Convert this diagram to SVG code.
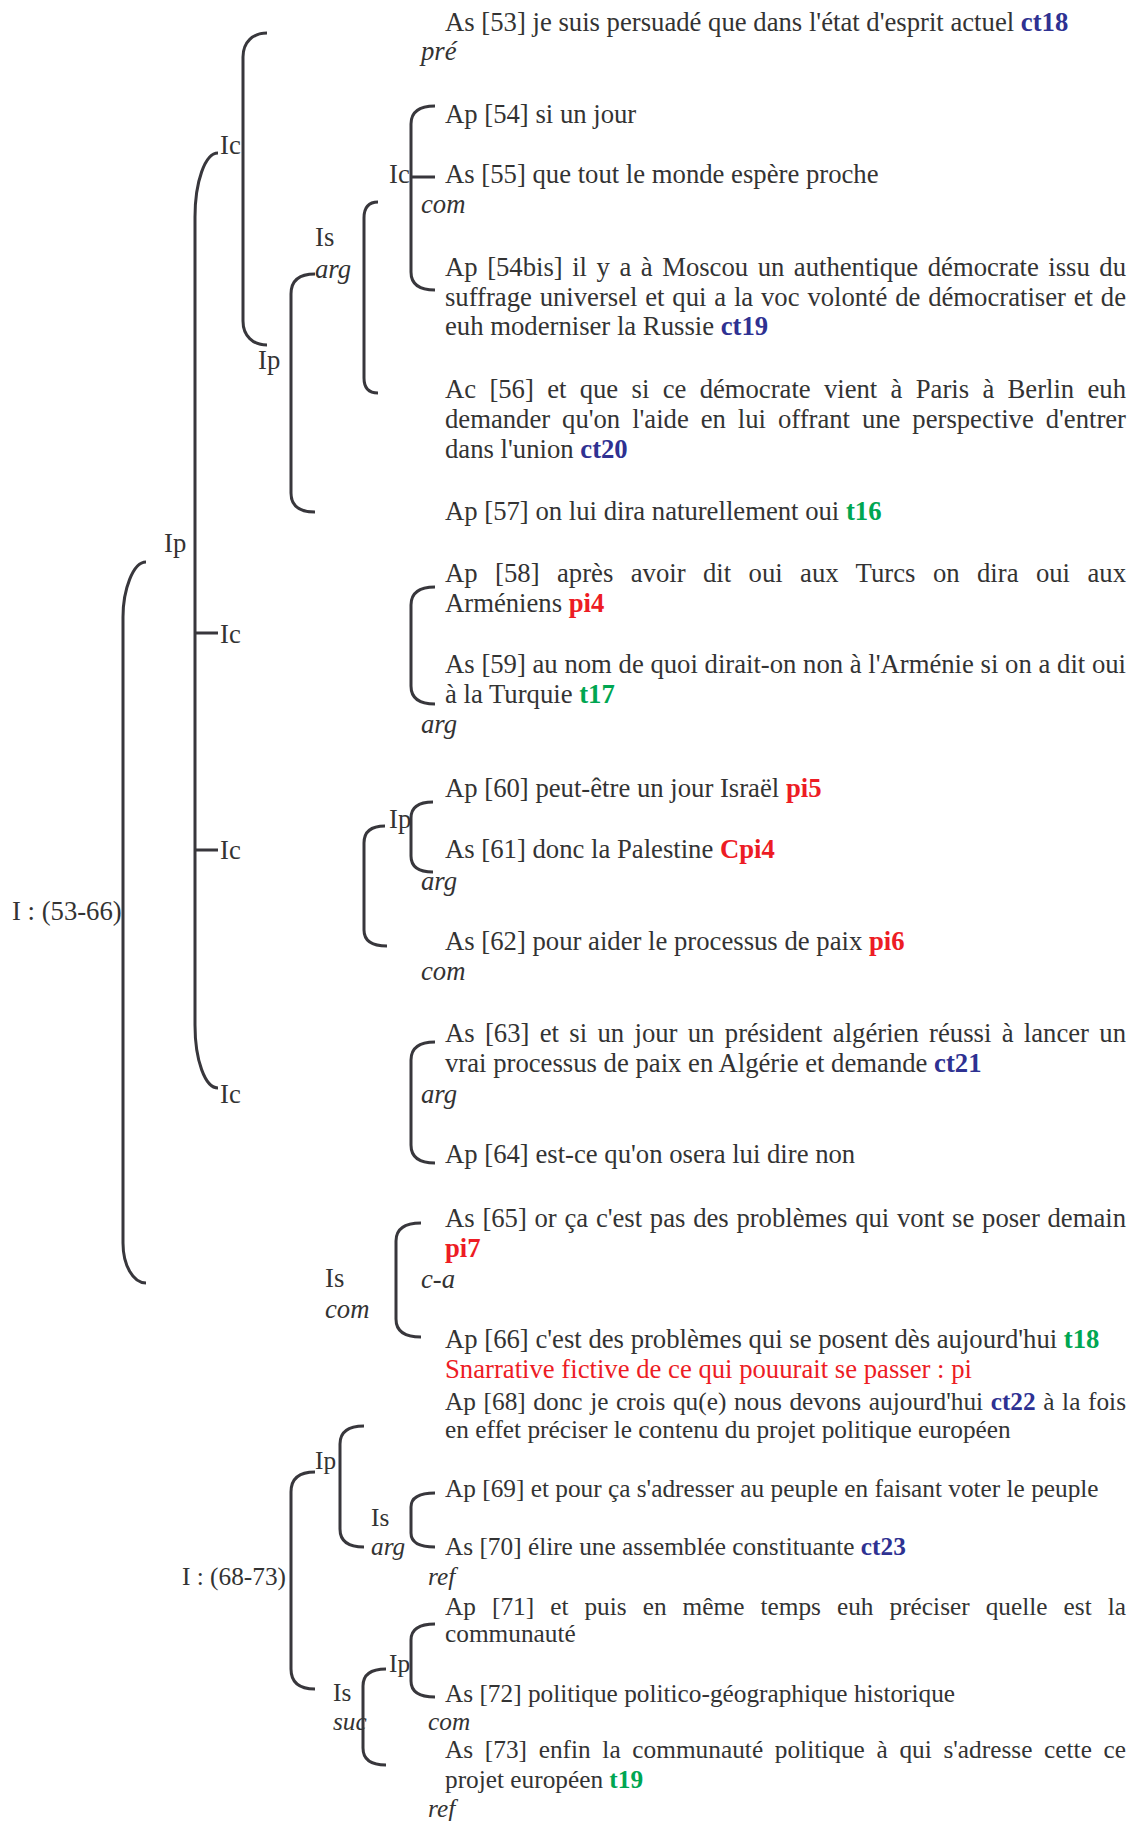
<svg xmlns="http://www.w3.org/2000/svg" width="1139" height="1821" viewBox="0 0 1139 1821">
<style>
.t{font-family:"Liberation Serif","Times New Roman",serif;font-size:26.7px;fill:#333}
.s{font-size:25.3px}
.i{font-style:italic}
.b{font-weight:bold}
.blue{fill:#2e3192}
.green{fill:#00a651}
.red{fill:#ed1c24}
.br{fill:none;stroke:#38373c;stroke-width:3}
</style>
<rect width="1139" height="1821" fill="#fff"/>
<g id="connectors">
<path class="br" d="M267,33 C253,33 243,42 243,57 L243,321 C243,336 253,345 267,345"/>
<path class="br" d="M218,153 C205,153 195,182 195,217 L195,1025 C195,1060 205,1088 218,1088 M195,633 H218 M195,850 H218"/>
<path class="br" d="M146,562 C133,562 123,590 123,617 L123,1243 C123,1265 133,1283 146,1283"/>
<path class="br" d="M315,274 Q291,274 291,294 L291,493 Q291,512 315,512"/>
<path class="br" d="M378,202 Q364,202 364,218 L364,378 Q364,393 378,393"/>
<path class="br" d="M435,106 Q411,106 411,124 L411,272 Q411,290 435,290 M411,177 H435"/>
<path class="br" d="M435,587 Q411,587 411,605 L411,686 Q411,704 435,704"/>
<path class="br" d="M433,802 Q411,802 411,818 L411,856 Q411,872 433,872"/>
<path class="br" d="M385,826 Q364,826 364,843 L364,930 Q364,946 387,946"/>
<path class="br" d="M435,1042 Q411,1042 411,1060 L411,1145 Q411,1163 435,1163"/>
<path class="br" d="M421,1223 Q396,1223 396,1241 L396,1319 Q396,1337 421,1337"/>
<path class="br" d="M315,1472 Q291,1472 291,1492 L291,1669 Q291,1689 315,1689"/>
<path class="br" d="M364,1426 Q340,1426 340,1444 L340,1529 Q340,1547 364,1547"/>
<path class="br" d="M435,1493 Q411,1493 411,1507 L411,1533 Q411,1547 435,1547"/>
<path class="br" d="M386,1669 Q363,1669 363,1686 L363,1748 Q363,1765 386,1765"/>
<path class="br" d="M435,1624 Q411,1624 411,1640 L411,1681 Q411,1697 435,1697"/>
</g>
<g id="labels">
<text class="t" x="220" y="154">Ic</text>
<text class="t" x="258" y="369">Ip</text>
<text class="t" x="315" y="246">Is</text>
<text class="t i" x="315" y="278">arg</text>
<text class="t" x="389" y="183">Ic</text>
<text class="t" x="164" y="552">Ip</text>
<text class="t" x="220" y="643">Ic</text>
<text class="t" x="220" y="859">Ic</text>
<text class="t" x="389" y="828">Ip</text>
<text class="t" x="12" y="920">I : (53-66)</text>
<text class="t" x="220" y="1103">Ic</text>
<text class="t" x="325" y="1287">Is</text>
<text class="t i" x="325" y="1318">com</text>
<text class="t s" x="315" y="1469">Ip</text>
<text class="t s" x="371" y="1526">Is</text>
<text class="t s i" x="371" y="1555">arg</text>
<text class="t s" x="182" y="1585">I : (68-73)</text>
<text class="t s" x="389" y="1672">Ip</text>
<text class="t s" x="333" y="1701">Is</text>
<text class="t s i" x="333" y="1730">suc</text>
<text class="t i" x="421" y="60">pré</text>
<text class="t i" x="421" y="213">com</text>
<text class="t i" x="421" y="733">arg</text>
<text class="t i" x="421" y="890">arg</text>
<text class="t i" x="421" y="980">com</text>
<text class="t i" x="421" y="1103">arg</text>
<text class="t i" x="421" y="1288">c-a</text>
<text class="t s i" x="428" y="1585">ref</text>
<text class="t s i" x="428" y="1730">com</text>
<text class="t s i" x="428" y="1817">ref</text>
</g>
<g id="seg53"><text class="t" x="445" y="31">As [53] je suis persuadé que dans l'état d'esprit actuel <tspan class="b blue">ct18</tspan></text></g>
<g id="seg54"><text class="t" x="445" y="123">Ap [54] si un jour</text></g>
<g id="seg55"><text class="t" x="445" y="183">As [55] que tout le monde espère proche</text></g>
<g id="seg54bis">
<text class="t" x="445" y="276" word-spacing="2.9" textLength="681" lengthAdjust="spacing">Ap [54bis] il y a à Moscou un authentique démocrate issu du</text>
<text class="t" x="445" y="306" word-spacing="1.2" textLength="681" lengthAdjust="spacing">suffrage universel et qui a la voc volonté de démocratiser et de</text>
<text class="t" x="445" y="335">euh moderniser la Russie <tspan class="b blue">ct19</tspan></text>
</g>
<g id="seg56">
<text class="t" x="445" y="398" word-spacing="6.7" textLength="681" lengthAdjust="spacing">Ac [56] et que si ce démocrate vient à Paris à Berlin euh</text>
<text class="t" x="445" y="428" word-spacing="5.3" textLength="681" lengthAdjust="spacing">demander qu'on l'aide en lui offrant une perspective d'entrer</text>
<text class="t" x="445" y="458">dans l'union <tspan class="b blue">ct20</tspan></text>
</g>
<g id="seg57"><text class="t" x="445" y="520">Ap [57] on lui dira naturellement oui <tspan class="b green">t16</tspan></text></g>
<g id="seg58">
<text class="t" x="445" y="582" word-spacing="10.7" textLength="681" lengthAdjust="spacing">Ap [58] après avoir dit oui aux Turcs on dira oui aux</text>
<text class="t" x="445" y="612">Arméniens <tspan class="b red">pi4</tspan></text>
</g>
<g id="seg59">
<text class="t" x="445" y="673" word-spacing="0.1" textLength="681" lengthAdjust="spacing">As [59] au nom de quoi dirait-on non à l'Arménie si on a dit oui</text>
<text class="t" x="445" y="703">à la Turquie <tspan class="b green">t17</tspan></text>
</g>
<g id="seg60"><text class="t" x="445" y="797">Ap [60] peut-être un jour Israël <tspan class="b red">pi5</tspan></text></g>
<g id="seg61"><text class="t" x="445" y="858">As [61] donc la Palestine <tspan class="b red">Cpi4</tspan></text></g>
<g id="seg62"><text class="t" x="445" y="950">As [62] pour aider le processus de paix <tspan class="b red">pi6</tspan></text></g>
<g id="seg63">
<text class="t" x="445" y="1042" word-spacing="3.7" textLength="681" lengthAdjust="spacing">As [63] et si un jour un président algérien réussi à lancer un</text>
<text class="t" x="445" y="1072">vrai processus de paix en Algérie et demande <tspan class="b blue">ct21</tspan></text>
</g>
<g id="seg64"><text class="t" x="445" y="1163">Ap [64] est-ce qu'on osera lui dire non</text></g>
<g id="seg65">
<text class="t" x="445" y="1227" word-spacing="1.1" textLength="681" lengthAdjust="spacing">As [65] or ça c'est pas des problèmes qui vont se poser demain</text>
<text class="t b red" x="445" y="1257">pi7</text>
</g>
<g id="seg66"><text class="t" x="445" y="1348">Ap [66] c'est des problèmes qui se posent dès aujourd'hui <tspan class="b green">t18</tspan></text></g>
<g id="narrative"><text class="t red" x="445" y="1378">Snarrative fictive de ce qui pouurait se passer : pi</text></g>
<g id="seg68">
<text class="t s" x="445" y="1410" word-spacing="1.25" textLength="681" lengthAdjust="spacing">Ap [68] donc je crois qu(e) nous devons aujourd'hui <tspan class="b blue">ct22</tspan> à la fois</text>
<text class="t s" x="445" y="1438">en effet préciser le contenu du projet politique européen</text>
</g>
<g id="seg69"><text class="t s" x="445" y="1497">Ap [69] et pour ça s'adresser au peuple en faisant voter le peuple</text></g>
<g id="seg70"><text class="t s" x="445" y="1555">As [70] élire une assemblée constituante <tspan class="b blue">ct23</tspan></text></g>
<g id="seg71">
<text class="t s" x="445" y="1615" word-spacing="9.6" textLength="681" lengthAdjust="spacing">Ap [71] et puis en même temps euh préciser quelle est la</text>
<text class="t s" x="445" y="1642">communauté</text>
</g>
<g id="seg72"><text class="t s" x="445" y="1702">As [72] politique politico-géographique historique</text></g>
<g id="seg73">
<text class="t s" x="445" y="1758" word-spacing="5.3" textLength="681" lengthAdjust="spacing">As [73] enfin la communauté politique à qui s'adresse cette ce</text>
<text class="t s" x="445" y="1788">projet européen <tspan class="b green">t19</tspan></text>
</g>
</svg>
